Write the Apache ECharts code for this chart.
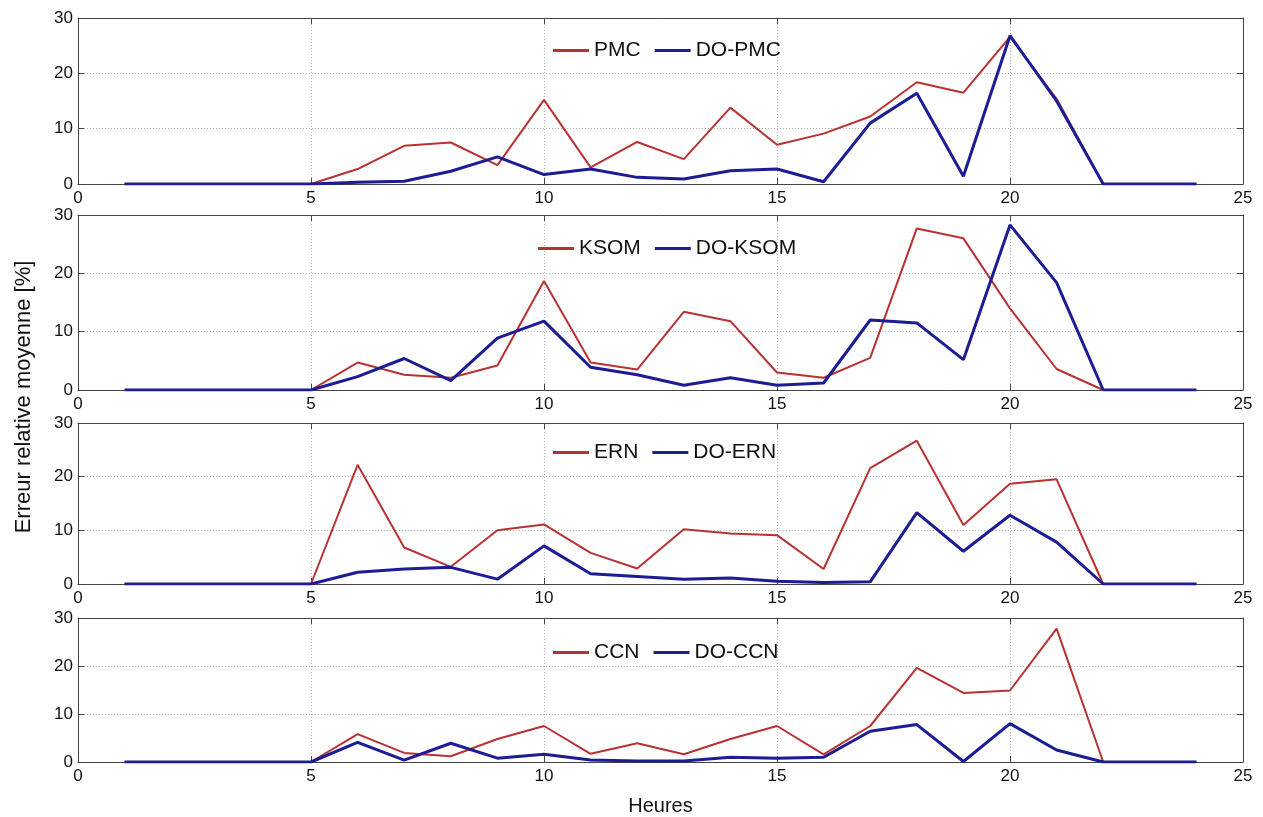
<!DOCTYPE html>
<html>
<head>
<meta charset="utf-8">
<script src="https://cdn.jsdelivr.net/npm/echarts@6/dist/echarts.min.js"></script>
<style>
html,body{margin:0;padding:0;background:#fff;}
#chart{width:1263px;height:817px;}
</style>
</head>
<body>
<div id="chart"></div>
<script>
const hours = [1,2,3,4,5,6,7,8,9,10,11,12,13,14,15,16,17,18,19,20,21,22,23,24];
const xTicks = [0,5,10,15,20,25];
const yTicks = [0,10,20,30];

const pmc    = [0,0,0,0,0,2.7,6.9,7.5,3.4,15.2,3.0,7.6,4.5,13.8,7.1,9.1,12.2,18.4,16.5,26.6,15.4,0,0,0];
const doPmc  = [0,0,0,0,0,0.3,0.5,2.3,4.9,1.7,2.7,1.2,0.9,2.4,2.7,0.4,11.0,16.4,1.4,26.8,15.0,0,0,0];
const ksom   = [0,0,0,0,0,4.7,2.6,2.1,4.2,18.7,4.7,3.5,13.4,11.8,3.0,2.1,5.5,27.7,26.0,14.0,3.6,0,0,0];
const doKsom = [0,0,0,0,0,2.3,5.4,1.6,8.9,11.8,3.9,2.6,0.8,2.1,0.8,1.2,12.0,11.5,5.2,28.3,18.4,0,0,0];
const ern    = [0,0,0,0,0,22.2,6.8,3.2,10.0,11.1,5.8,2.9,10.2,9.4,9.1,2.8,21.6,26.7,11.0,18.7,19.5,0,0,0];
const doErn  = [0,0,0,0,0,2.2,2.8,3.1,0.9,7.1,1.9,1.4,0.9,1.1,0.5,0.3,0.4,13.3,6.1,12.8,7.8,0,0,0];
const ccn    = [0,0,0,0,0,5.8,1.9,1.2,4.8,7.5,1.7,3.9,1.6,4.8,7.5,1.6,7.5,19.6,14.4,14.9,27.8,0,0,0];
const doCcn  = [0,0,0,0,0,4.1,0.4,3.9,0.8,1.6,0.4,0.2,0.2,1.0,0.8,1.0,6.4,7.8,0.1,8.0,2.5,0,0,0];

const seriesNames = [['PMC','DO-PMC'],['KSOM','DO-KSOM'],['ERN','DO-ERN'],['CCN','DO-CCN']];
const seriesVals = [[pmc,doPmc],[ksom,doKsom],[ern,doErn],[ccn,doCcn]];

const panels = [
  {top:18, height:166, legendLeft:548, legendTop:35},
  {top:215, height:175, legendLeft:533, legendTop:233},
  {top:423, height:161, legendLeft:548, legendTop:437},
  {top:618, height:154, legendLeft:548, legendTop:637}
];

const RED = '#b83232', BLUE = '#1c1c94';
const FONT = 'Liberation Sans, Arial, sans-serif';

const grid = [], xAxis = [], yAxis = [], series = [], legend = [];
panels.forEach((p, i) => {
  grid.push({left:78, right:20, top:p.top, height:p.height, show:false});
  const xBase = {
    type:'value', gridIndex:i, min:xTicks[0], max:xTicks[xTicks.length-1], interval:5
  };
  xAxis.push(Object.assign({}, xBase, {
    position:'bottom',
    axisLine:{show:true, onZero:false, lineStyle:{color:'#444', width:1}},
    axisTick:{show:true, inside:true, length:6, lineStyle:{color:'#444'}},
    axisLabel:{show:true, color:'#111', fontSize:17, fontFamily:FONT, margin:6},
    splitLine:{show:true, lineStyle:{color:'#b8b8b8', type:[1,2], width:1}},
    name: i === 3 ? 'Heures' : '',
    nameLocation:'middle', nameGap:34,
    nameTextStyle:{color:'#111', fontSize:20, fontFamily:FONT}
  }));
  xAxis.push(Object.assign({}, xBase, {
    position:'top',
    axisLine:{show:true, onZero:false, lineStyle:{color:'#444', width:1}},
    axisTick:{show:true, inside:true, length:6, lineStyle:{color:'#444'}},
    axisLabel:{show:false}, splitLine:{show:false}
  }));
  const yBase = {type:'value', gridIndex:i, min:yTicks[0], max:yTicks[yTicks.length-1], interval:10};
  yAxis.push(Object.assign({}, yBase, {
    position:'left',
    axisLine:{show:true, onZero:false, lineStyle:{color:'#444', width:1}},
    axisTick:{show:true, inside:true, length:6, lineStyle:{color:'#444'}},
    axisLabel:{show:true, color:'#111', fontSize:17, fontFamily:FONT, margin:5},
    splitLine:{show:true, lineStyle:{color:'#b8b8b8', type:[1,2], width:1}}
  }));
  yAxis.push(Object.assign({}, yBase, {
    position:'right',
    axisLine:{show:true, onZero:false, lineStyle:{color:'#444', width:1}},
    axisTick:{show:true, inside:true, length:6, lineStyle:{color:'#444'}},
    axisLabel:{show:false}, splitLine:{show:false}
  }));
  const names = seriesNames[i];
  [RED, BLUE].forEach((c, k) => {
    series.push({
      type:'line', name:names[k], xAxisIndex:2*i, yAxisIndex:2*i,
      data: hours.map((h, j) => [h, seriesVals[i][k][j]]),
      symbol:'none', color:c,
      lineStyle:{color:c, width: k === 0 ? 2 : 3},
      animation:false, z: k === 0 ? 2 : 3
    });
  });
  legend.push({
    data:names.map(n => ({name:n, icon:'rect'})),
    left:p.legendLeft, top:p.legendTop, orient:'horizontal',
    itemWidth:36, itemHeight:3, itemGap:14,
    textStyle:{color:'#111', fontSize:21, fontFamily:FONT},
    selectedMode:false
  });
});

const chart = echarts.init(document.getElementById('chart'), null, {renderer:'canvas'});
chart.setOption({
  backgroundColor:'#fff',
  animation:false,
  grid, xAxis, yAxis, series, legend,
  graphic:[{
    type:'text', x:24, y:397, rotation:Math.PI/2,
    style:{text:'Erreur relative moyenne [%]', fill:'#111', fontSize:22, fontFamily:FONT,
           textAlign:'center', textVerticalAlign:'middle'}
  }]
});
</script>
</body>
</html>
